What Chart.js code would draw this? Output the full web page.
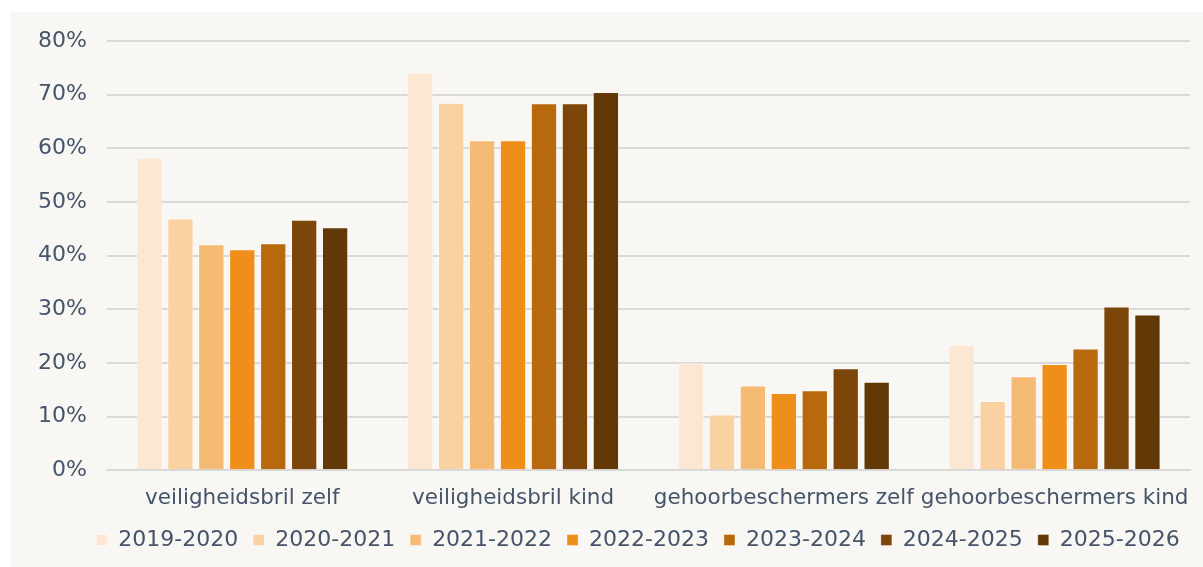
<!DOCTYPE html>
<html>
<head>
<meta charset="utf-8">
<script src="https://cdn.jsdelivr.net/npm/chart.js@4"></script>
<style>
  html, body { margin: 0; padding: 0; background: #ffffff; }
  #wrap { position: absolute; left: 10px; top: 12px; width: 1193px; height: 555px; background: #f9f7f3; }
</style>
</head>
<body>
<div id="wrap"><canvas id="myChart" width="1193" height="555"></canvas></div>
<script>
// categories on the x axis
let categories = ['veiligheidsbril zelf', 'veiligheidsbril kind', 'gehoorbeschermers zelf', 'gehoorbeschermers kind'];

// school years (one series each)
let years = ['2019-2020', '2020-2021', '2021-2022', '2022-2023', '2023-2024', '2024-2025', '2025-2026'];
let colors = ['#fce8d2', '#fad2a2', '#f5ba74', '#ef8e19', '#b8690e', '#7c450a', '#623806'];

// percentages per year, in category order
let y2019 = [58.3, 74.1, 20.0, 23.4];
let y2020 = [46.9, 68.5, 10.4, 12.9];
let y2021 = [42.1, 61.5, 15.8, 17.5];
let y2022 = [41.2, 61.5, 14.4, 19.8];
let y2023 = [42.3, 68.4, 14.9, 22.7];
let y2024 = [46.7, 68.4, 19.0, 30.5];
let y2025 = [45.3, 70.5, 16.5, 29.0];
let seriesValues = [y2019, y2020, y2021, y2022, y2023, y2024, y2025];

let yTicks = [0, 10, 20, 30, 40, 50, 60, 70, 80];

let textColor = '#44546a';
Chart.defaults.font.family = '"DejaVu Sans", Verdana, sans-serif';
Chart.defaults.font.size = 22;
Chart.defaults.color = textColor;

// legend sits a bit tighter under the axis labels and slightly right of centre
const legendNudge = {
    id: 'legendNudge',
    beforeLayout(chart) {
        const lg = chart.legend;
        if (lg && !lg._nudged) {
            const fit = lg.fit;
            lg.fit = function () { fit.call(this); this.height -= 4; };
            lg._nudged = true;
        }
    },
    afterLayout(chart) {
        const lg = chart.legend;
        lg.top -= 4; lg.bottom -= 4;
        lg.left += 34; lg.right += 34;
    }
};

var ctx = document.getElementById('myChart').getContext('2d');
var chart = new Chart(ctx, {
    type: 'bar',
    data: {
        labels: categories,
        datasets: years.map((year, i) => ({
            label: year,
            data: seriesValues[i],
            backgroundColor: colors[i],
            borderColor: 'rgba(255,255,255,0.35)',
            borderWidth: 1,
            categoryPercentage: 0.8,
            barPercentage: 0.85
        }))
    },
    options: {
        responsive: false,
        animation: false,
        layout: {
            padding: {top: 13, right: 13, left: 8, bottom: 6}
        },
        plugins: {
            legend: {
                position: 'bottom',
                labels: {
                    boxWidth: 11,
                    boxHeight: 11,
                    padding: 15,
                    color: textColor,
                    font: {size: 22}
                }
            },
            tooltip: {enabled: false}
        },
        scales: {
            x: {
                grid: {display: false},
                border: {color: '#d9d9d9', width: 2},
                ticks: {padding: 7, color: textColor, font: {size: 21.5}, maxRotation: 0, minRotation: 0, autoSkip: false}
            },
            y: {
                min: yTicks[0],
                max: yTicks[yTicks.length - 1],
                afterBuildTicks: axis => { axis.ticks = yTicks.map(v => ({value: v})); },
                afterFit: axis => { axis.paddingTop = 29; },
                grid: {color: '#d9d9d9', lineWidth: 2, drawTicks: false},
                border: {display: false},
                ticks: {
                    padding: 20,
                    color: textColor,
                    font: {size: 22},
                    callback: v => v + '%'
                }
            }
        }
    },
    plugins: [legendNudge]
});
</script>
</body>
</html>
